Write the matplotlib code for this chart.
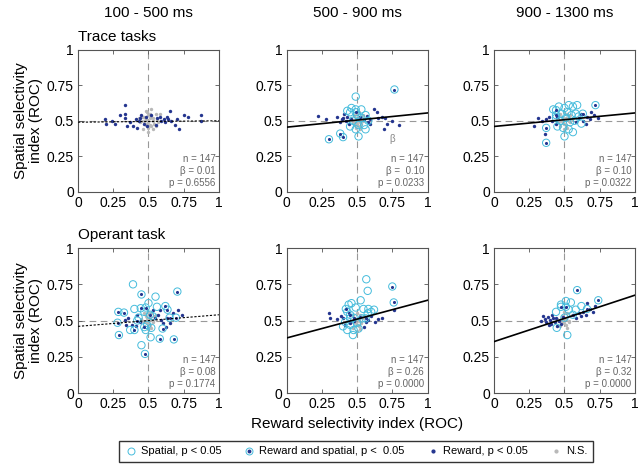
import matplotlib
matplotlib.use('Agg')
import matplotlib.pyplot as plt
from matplotlib.lines import Line2D

plt.rcParams['font.family'] = ['Liberation Sans', 'DejaVu Sans']

col_titles = ['100 - 500 ms', '500 - 900 ms', '900 - 1300 ms']
row_titles = ['Trace tasks', 'Operant task']
ticks = [0, 0.25, 0.5, 0.75, 1]
tick_labels = ['0', '0.25', '0.5', '0.75', '1']

# statistics per panel (row, col)
stats_n = [[147, 147, 147], [147, 147, 147]]
stats_beta = [['0.01', ' 0.10', '0.10'], ['0.08', '0.26', '0.32']]
stats_p = [['0.6556', '0.0233', '0.0322'], ['0.1774', '0.0000', '0.0000']]
# regression lines: value at x=0 and x=1
fit_y0 = [[0.49, 0.455, 0.46], [0.46, 0.38, 0.355]]
fit_y1 = [[0.50, 0.555, 0.555], [0.54, 0.64, 0.675]]
fit_sig = [[False, True, True], [False, True, True]]

# ---- Trace 100-500 ----
a_sp_x, a_sp_y = [], []
a_rs_x, a_rs_y = [], []
a_rw_x = [0.33, 0.30, 0.33, 0.19, 0.20, 0.26, 0.33, 0.35, 0.39, 0.42, 0.44, 0.45, 0.48, 0.52, 0.56, 0.58,
          0.61, 0.63, 0.65, 0.66, 0.69, 0.72, 0.75, 0.78, 0.87, 0.87, 0.70, 0.64, 0.59, 0.55, 0.49, 0.47,
          0.43, 0.41, 0.24, 0.37, 0.62]
a_rw_y = [0.61, 0.54, 0.55, 0.51, 0.48, 0.48, 0.52, 0.46, 0.46, 0.45, 0.52, 0.54, 0.53, 0.54, 0.52, 0.53,
          0.51, 0.53, 0.57, 0.50, 0.47, 0.44, 0.54, 0.53, 0.54, 0.50, 0.51, 0.51, 0.50, 0.47, 0.46, 0.48,
          0.50, 0.51, 0.50, 0.49, 0.49]
a_ns_x = [0.45, 0.47, 0.48, 0.50, 0.51, 0.52, 0.53, 0.55, 0.46, 0.49, 0.50, 0.52, 0.54, 0.56, 0.44, 0.47,
          0.50, 0.51, 0.53, 0.48, 0.50, 0.52, 0.55, 0.57, 0.49, 0.46, 0.51, 0.53, 0.50, 0.48, 0.43, 0.58]
a_ns_y = [0.50, 0.53, 0.47, 0.49, 0.52, 0.46, 0.50, 0.55, 0.44, 0.56, 0.42, 0.58, 0.48, 0.51, 0.49, 0.50,
          0.54, 0.47, 0.44, 0.51, 0.50, 0.53, 0.46, 0.49, 0.48, 0.53, 0.55, 0.52, 0.45, 0.57, 0.52, 0.55]

# ---- Trace 500-900 ----
b_sp_x = [0.49, 0.46, 0.45, 0.49, 0.53, 0.56, 0.50, 0.47, 0.51, 0.55, 0.49, 0.56, 0.51, 0.45, 0.53, 0.43, 0.58]
b_sp_y = [0.67, 0.59, 0.56, 0.58, 0.58, 0.54, 0.54, 0.50, 0.47, 0.47, 0.44, 0.44, 0.39, 0.46, 0.52, 0.57, 0.50]
b_rs_x = [0.30, 0.38, 0.40, 0.765, 0.49]
b_rs_y = [0.37, 0.41, 0.385, 0.72, 0.56]
b_rw_x = [0.22, 0.28, 0.355, 0.39, 0.41, 0.43, 0.44, 0.46, 0.55, 0.57, 0.59, 0.62, 0.64, 0.65, 0.68, 0.70,
          0.71, 0.69, 0.75, 0.795, 0.59, 0.52, 0.42, 0.58, 0.38, 0.40]
b_rw_y = [0.535, 0.51, 0.53, 0.51, 0.55, 0.53, 0.48, 0.51, 0.51, 0.535, 0.51, 0.58, 0.56, 0.52, 0.525, 0.52,
          0.48, 0.44, 0.50, 0.47, 0.48, 0.525, 0.50, 0.49, 0.49, 0.52]
b_ns_x = [0.47, 0.49, 0.50, 0.51, 0.52, 0.53, 0.48, 0.50, 0.52, 0.54, 0.46, 0.49, 0.51, 0.53, 0.55, 0.50,
          0.48, 0.52, 0.47, 0.51, 0.53, 0.49, 0.50, 0.54, 0.45]
b_ns_y = [0.50, 0.52, 0.48, 0.51, 0.49, 0.53, 0.47, 0.55, 0.46, 0.50, 0.52, 0.45, 0.53, 0.48, 0.51, 0.50,
          0.54, 0.44, 0.49, 0.56, 0.51, 0.49, 0.47, 0.54, 0.51]

# ---- Trace 900-1300 ----
c_sp_x = [0.42, 0.46, 0.50, 0.53, 0.56, 0.59, 0.48, 0.52, 0.55, 0.58, 0.47, 0.51, 0.54, 0.57, 0.60, 0.45,
          0.49, 0.53, 0.50, 0.56, 0.62, 0.44]
c_sp_y = [0.58, 0.60, 0.59, 0.61, 0.60, 0.61, 0.55, 0.56, 0.54, 0.55, 0.50, 0.52, 0.49, 0.50, 0.53, 0.46,
          0.45, 0.44, 0.39, 0.42, 0.48, 0.52]
c_rs_x = [0.37, 0.37, 0.44, 0.44, 0.72, 0.63]
c_rs_y = [0.45, 0.345, 0.575, 0.54, 0.61, 0.55]
c_rw_x = [0.28, 0.31, 0.34, 0.36, 0.37, 0.41, 0.44, 0.445, 0.60, 0.63, 0.66, 0.68, 0.71, 0.74, 0.62, 0.65,
          0.58, 0.69, 0.39]
c_rw_y = [0.46, 0.52, 0.50, 0.41, 0.51, 0.50, 0.48, 0.525, 0.52, 0.50, 0.53, 0.51, 0.54, 0.52, 0.55, 0.48,
          0.49, 0.56, 0.53]
c_ns_x = [0.46, 0.48, 0.50, 0.51, 0.52, 0.54, 0.47, 0.49, 0.51, 0.53, 0.55, 0.45, 0.50, 0.52, 0.48, 0.54,
          0.49, 0.51, 0.53, 0.47, 0.50, 0.56]
c_ns_y = [0.50, 0.53, 0.48, 0.51, 0.55, 0.49, 0.46, 0.52, 0.47, 0.53, 0.51, 0.49, 0.56, 0.45, 0.50, 0.54,
          0.49, 0.52, 0.50, 0.55, 0.44, 0.52]

# ---- Operant 100-500 ----
d_sp_x = [0.39, 0.55, 0.45, 0.515, 0.48, 0.49, 0.56, 0.50, 0.40, 0.37, 0.53, 0.47, 0.52, 0.43]
d_sp_y = [0.75, 0.665, 0.33, 0.385, 0.435, 0.47, 0.595, 0.62, 0.58, 0.435, 0.53, 0.56, 0.45, 0.52]
d_rs_x = [0.45, 0.705, 0.286, 0.326, 0.28, 0.29, 0.40, 0.445, 0.48, 0.62, 0.635, 0.58, 0.68, 0.475, 0.60,
          0.65, 0.695, 0.42, 0.47, 0.51]
d_rs_y = [0.68, 0.70, 0.56, 0.555, 0.485, 0.40, 0.435, 0.585, 0.59, 0.60, 0.575, 0.375, 0.37, 0.27, 0.445,
          0.52, 0.52, 0.50, 0.455, 0.54]
d_rw_x = [0.357, 0.42, 0.34, 0.38, 0.44, 0.545, 0.57, 0.59, 0.605, 0.625, 0.65, 0.675, 0.71, 0.735, 0.58,
          0.535, 0.335, 0.41, 0.63]
d_rw_y = [0.515, 0.54, 0.47, 0.47, 0.49, 0.515, 0.54, 0.505, 0.48, 0.457, 0.48, 0.55, 0.57, 0.54, 0.57,
          0.57, 0.505, 0.46, 0.52]
d_ns_x = [0.46, 0.48, 0.50, 0.51, 0.52, 0.53, 0.47, 0.49, 0.51, 0.54, 0.45, 0.50, 0.52, 0.48, 0.55, 0.49,
          0.51, 0.47, 0.53, 0.50]
d_ns_y = [0.50, 0.53, 0.48, 0.51, 0.55, 0.49, 0.46, 0.52, 0.47, 0.53, 0.51, 0.56, 0.45, 0.50, 0.54, 0.49,
          0.52, 0.55, 0.50, 0.44]

# ---- Operant 500-900 ----
e_sp_x = [0.565, 0.575, 0.525, 0.46, 0.44, 0.49, 0.545, 0.58, 0.62, 0.43, 0.45, 0.415, 0.43, 0.475, 0.51,
          0.50, 0.45, 0.535, 0.575, 0.47, 0.60, 0.40]
e_sp_y = [0.785, 0.705, 0.64, 0.62, 0.61, 0.59, 0.58, 0.58, 0.575, 0.56, 0.515, 0.49, 0.435, 0.435, 0.445,
          0.485, 0.47, 0.515, 0.55, 0.40, 0.56, 0.46]
e_rs_x = [0.75, 0.76, 0.42, 0.45, 0.475, 0.56]
e_rs_y = [0.735, 0.625, 0.58, 0.54, 0.52, 0.515]
e_rw_x = [0.30, 0.305, 0.385, 0.40, 0.44, 0.52, 0.56, 0.58, 0.60, 0.63, 0.675, 0.76, 0.45, 0.475, 0.55,
          0.415, 0.65, 0.36]
e_rw_y = [0.555, 0.52, 0.53, 0.52, 0.555, 0.525, 0.49, 0.505, 0.53, 0.49, 0.52, 0.57, 0.48, 0.50, 0.455,
          0.47, 0.51, 0.51]
e_ns_x = [0.46, 0.48, 0.50, 0.51, 0.52, 0.53, 0.47, 0.49, 0.51, 0.54, 0.45, 0.50, 0.52, 0.48, 0.55, 0.49,
          0.51, 0.47, 0.53, 0.50]
e_ns_y = [0.49, 0.52, 0.47, 0.50, 0.54, 0.48, 0.45, 0.51, 0.46, 0.52, 0.50, 0.55, 0.44, 0.49, 0.53, 0.48,
          0.51, 0.54, 0.49, 0.43]

# ---- Operant 900-1300 ----
f_sp_x = [0.445, 0.51, 0.545, 0.475, 0.44, 0.52, 0.58, 0.53, 0.56, 0.50, 0.62]
f_sp_y = [0.45, 0.635, 0.625, 0.61, 0.56, 0.40, 0.575, 0.575, 0.54, 0.52, 0.60]
f_rs_x = [0.59, 0.475, 0.51, 0.74, 0.66]
f_rs_y = [0.71, 0.595, 0.595, 0.64, 0.58]
f_rw_x = [0.345, 0.36, 0.37, 0.38, 0.395, 0.405, 0.42, 0.43, 0.44, 0.46, 0.475, 0.49, 0.56, 0.58, 0.60,
          0.63, 0.65, 0.68, 0.70, 0.72, 0.66, 0.62, 0.33, 0.39, 0.41, 0.45]
f_rw_y = [0.53, 0.51, 0.49, 0.525, 0.505, 0.475, 0.515, 0.49, 0.52, 0.50, 0.475, 0.525, 0.535, 0.515, 0.55,
          0.56, 0.54, 0.58, 0.56, 0.60, 0.62, 0.53, 0.50, 0.47, 0.54, 0.46]
f_ns_x = [0.46, 0.48, 0.50, 0.51, 0.52, 0.53, 0.47, 0.49, 0.51, 0.54, 0.45, 0.50, 0.52, 0.48, 0.55, 0.49,
          0.51, 0.53]
f_ns_y = [0.50, 0.53, 0.48, 0.51, 0.55, 0.49, 0.46, 0.52, 0.47, 0.53, 0.51, 0.56, 0.45, 0.50, 0.54, 0.49,
          0.52, 0.50]

panels = [
    [(a_sp_x, a_sp_y, a_rs_x, a_rs_y, a_rw_x, a_rw_y, a_ns_x, a_ns_y),
     (b_sp_x, b_sp_y, b_rs_x, b_rs_y, b_rw_x, b_rw_y, b_ns_x, b_ns_y),
     (c_sp_x, c_sp_y, c_rs_x, c_rs_y, c_rw_x, c_rw_y, c_ns_x, c_ns_y)],
    [(d_sp_x, d_sp_y, d_rs_x, d_rs_y, d_rw_x, d_rw_y, d_ns_x, d_ns_y),
     (e_sp_x, e_sp_y, e_rs_x, e_rs_y, e_rw_x, e_rw_y, e_ns_x, e_ns_y),
     (f_sp_x, f_sp_y, f_rs_x, f_rs_y, f_rw_x, f_rw_y, f_ns_x, f_ns_y)],
]

CYAN = '#45bcdc'
NAVY = '#24358f'
GRAY = '#b8b8b8'
AXC = '#555555'

fig = plt.figure(figsize=(6.4, 4.69), dpi=100)
lefts = [0.122, 0.448, 0.772]
bottoms = [0.591, 0.162]
heights = [0.303, 0.309]
width = 0.220

for r in range(2):
    for c in range(3):
        ax = fig.add_axes([lefts[c], bottoms[r], width, heights[r]])
        sp_x, sp_y, rs_x, rs_y, rw_x, rw_y, ns_x, ns_y = panels[r][c]
        ax.axvline(0.5, color='#999999', ls=(0, (6, 4)), lw=0.8, zorder=1)
        ax.axhline(0.5, color='#999999', ls=(0, (6, 4)), lw=0.8, zorder=1)
        ax.scatter(ns_x, ns_y, s=6, color=GRAY, zorder=2, linewidths=0)
        ax.scatter(rw_x, rw_y, s=6, color=NAVY, zorder=3, linewidths=0)
        ax.scatter(sp_x, sp_y, s=28, facecolors='none', edgecolors=CYAN, linewidths=0.7, zorder=4)
        ax.scatter(rs_x, rs_y, s=28, facecolors='none', edgecolors=CYAN, linewidths=0.7, zorder=4)
        ax.scatter(rs_x, rs_y, s=5, color=NAVY, zorder=5, linewidths=0)
        if fit_sig[r][c]:
            ax.plot([0, 1], [fit_y0[r][c], fit_y1[r][c]], color='black', lw=1.2, zorder=6)
        else:
            ax.plot([0, 1], [fit_y0[r][c], fit_y1[r][c]], color='black', lw=0.8, ls=(0, (2, 1.5)), zorder=6)
        ax.text(0.975, 0.03,
                'n = %d\n\u03b2 = %s\np = %s' % (stats_n[r][c], stats_beta[r][c], stats_p[r][c]),
                ha='right', va='bottom', fontsize=7, color='#666666', linespacing=1.25, zorder=7)
        if r == 0 and c == 1:
            ax.text(0.75, 0.37, '\u03b2', ha='center', va='center', fontsize=7, color='#888888')
        ax.set_xlim(0, 1)
        ax.set_ylim(0, 1)
        ax.set_xticks(ticks)
        ax.set_yticks(ticks)
        ax.set_xticklabels(tick_labels)
        ax.set_yticklabels(tick_labels)
        ax.tick_params(direction='in', length=3, width=0.6, color=AXC, labelsize=10,
                       top=True, right=True, pad=3)
        for s in ax.spines.values():
            s.set_color(AXC)
            s.set_linewidth(0.8)
        if c == 0:
            ax.text(0, 1.04, row_titles[r], transform=ax.transAxes, ha='left', va='bottom', fontsize=11)
        if r == 0:
            fig.text(lefts[c] + width / 2, 0.972, col_titles[c], ha='center', va='center', fontsize=11)
    fig.text(0.045, bottoms[r] + heights[r] / 2, 'Spatial selectivity\nindex (ROC)', rotation=90,
             ha='center', va='center', fontsize=11, linespacing=1.1)

fig.text(0.558, 0.096, 'Reward selectivity index (ROC)', ha='center', va='center', fontsize=11)

handles = [
    Line2D([], [], ls='none', marker='o', markersize=5, markerfacecolor='none', markeredgecolor=CYAN,
           markeredgewidth=0.7),
    (Line2D([], [], ls='none', marker='o', markersize=5, markerfacecolor='none', markeredgecolor=CYAN,
            markeredgewidth=0.7),
     Line2D([], [], ls='none', marker='o', markersize=1.8, color=NAVY)),
    Line2D([], [], ls='none', marker='o', markersize=2, color=NAVY),
    Line2D([], [], ls='none', marker='o', markersize=2, color=GRAY),
]
labels = ['Spatial, p < 0.05', 'Reward and spatial, p <  0.05', 'Reward, p < 0.05', 'N.S.']
leg = fig.legend(handles, labels, loc='center', ncol=4, bbox_to_anchor=(0.178, 0.01, 0.757, 0.055),
                 mode='expand', fontsize=8, frameon=True, fancybox=False, handlelength=1.0,
                 handletextpad=0.4, borderpad=0.5, columnspacing=1.2)
leg.get_frame().set_edgecolor('black')
leg.get_frame().set_linewidth(1.0)

fig.savefig('out.png', dpi=100)
